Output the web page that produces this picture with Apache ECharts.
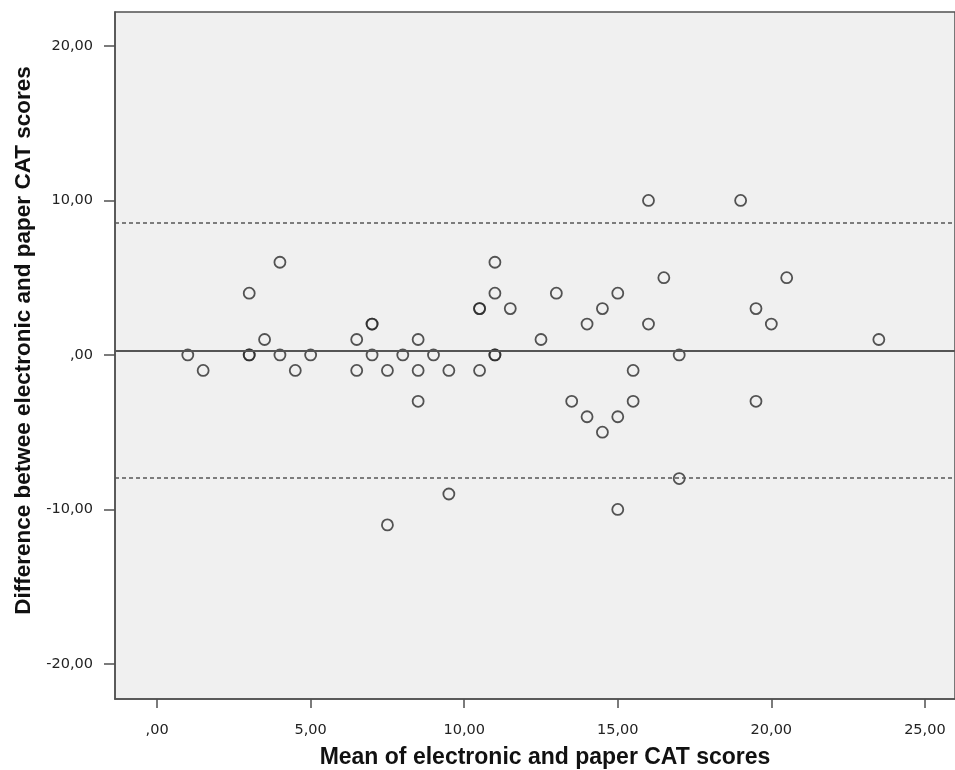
<!DOCTYPE html>
<html>
<head>
<meta charset="utf-8">
<script src="https://cdn.jsdelivr.net/npm/echarts@6/dist/echarts.min.js"></script>
<style>
html,body{margin:0;padding:0;background:#fff;}
#c{width:955px;height:770px;}
</style>
</head>
<body>
<div id="c"></div>
<script>
// Mean of electronic and paper CAT scores (x) and their difference (y)
const meanScores = [1,1.5,3,3,3,3.5,4,4,4.5,5,6.5,6.5,7,7,7,7.5,7.5,8,8.5,8.5,8.5,9,9.5,9.5,
  10.5,10.5,10.5,11,11,11,11,11.5,12.5,13,13.5,14,14,14.5,14.5,15,15,15,15.5,15.5,16,16,16.5,
  17,17,19,19.5,19.5,20,20.5,23.5];
const diffScores = [0,-1,4,0,0,1,6,0,-1,0,1,-1,2,2,0,-1,-11,0,1,-1,-3,0,-1,-9,
  3,3,-1,6,4,0,0,3,1,4,-3,2,-4,3,-5,4,-4,-10,-1,-3,10,2,5,
  0,-8,10,3,-3,2,5,1];
const meanDiff = 0.3;
const upperLoA = 8.57;
const lowerLoA = -7.97;
const xTicks = [0,5,10,15,20,25];
const yTicks = [-20,-10,0,10,20];

const points = meanScores.map((x,i)=>[x, diffScores[i]]);
const fmt = v => v === 0 ? ',00' : v.toFixed(2).replace('.', ',');

const chart = echarts.init(document.getElementById('c'));
chart.setOption({
  animation:false,
  backgroundColor:'#ffffff',
  grid:{left:115, top:12, width:840, height:687, show:true, containLabel:false,
        outerBoundsMode:'none',
        backgroundColor:'#f0f0f0', borderColor:'#505050', borderWidth:1.5},
  xAxis:{
    type:'value', min:-1.37, max:25.98,
    name:'Mean of electronic and paper CAT scores',
    nameLocation:'middle', nameGap:47,
    nameTextStyle:{fontFamily:'Liberation Sans', fontWeight:'bold', fontSize:23, color:'#111', padding:[0,0,0,20]},
    splitLine:{show:false},
    axisLine:{show:true, onZero:false, lineStyle:{color:'#505050', width:1.5}},
    axisTick:{show:true, length:9, customValues:xTicks, lineStyle:{color:'#505050', width:1.5}},
    axisLabel:{customValues:xTicks, formatter:fmt, margin:24,
               fontFamily:'DejaVu Sans', fontSize:14.5, color:'#222'}
  },
  yAxis:{
    type:'value', min:-22.27, max:22.2,
    name:'Difference betwee electronic and paper CAT scores',
    nameLocation:'middle', nameGap:80, nameRotate:90,
    nameTextStyle:{fontFamily:'Liberation Sans', fontWeight:'bold', fontSize:22.5, color:'#111', padding:[0,0,0,30]},
    splitLine:{show:false},
    axisLine:{show:true, onZero:false, lineStyle:{color:'#505050', width:1.5}},
    axisTick:{show:true, length:11, customValues:yTicks, lineStyle:{color:'#505050', width:1.5}},
    axisLabel:{customValues:yTicks, formatter:fmt, margin:22,
               fontFamily:'DejaVu Sans', fontSize:14.5, color:'#222'}
  },
  series:[{
    type:'scatter',
    data:points,
    symbol:'circle',
    symbolSize:11,
    itemStyle:{color:'rgba(0,0,0,0)', borderColor:'#2a2a2a', borderWidth:1.8},
    markLine:{
      silent:true, symbol:['none','none'], label:{show:false},
      data:[
        {yAxis:meanDiff, lineStyle:{type:'solid', color:'#555', width:1.8}},
        {yAxis:upperLoA, lineStyle:{type:[4,3], color:'#555', width:1.6}},
        {yAxis:lowerLoA, lineStyle:{type:[4,3], color:'#555', width:1.6}}
      ]
    },
    z:3
  }]
});
</script>
</body>
</html>
